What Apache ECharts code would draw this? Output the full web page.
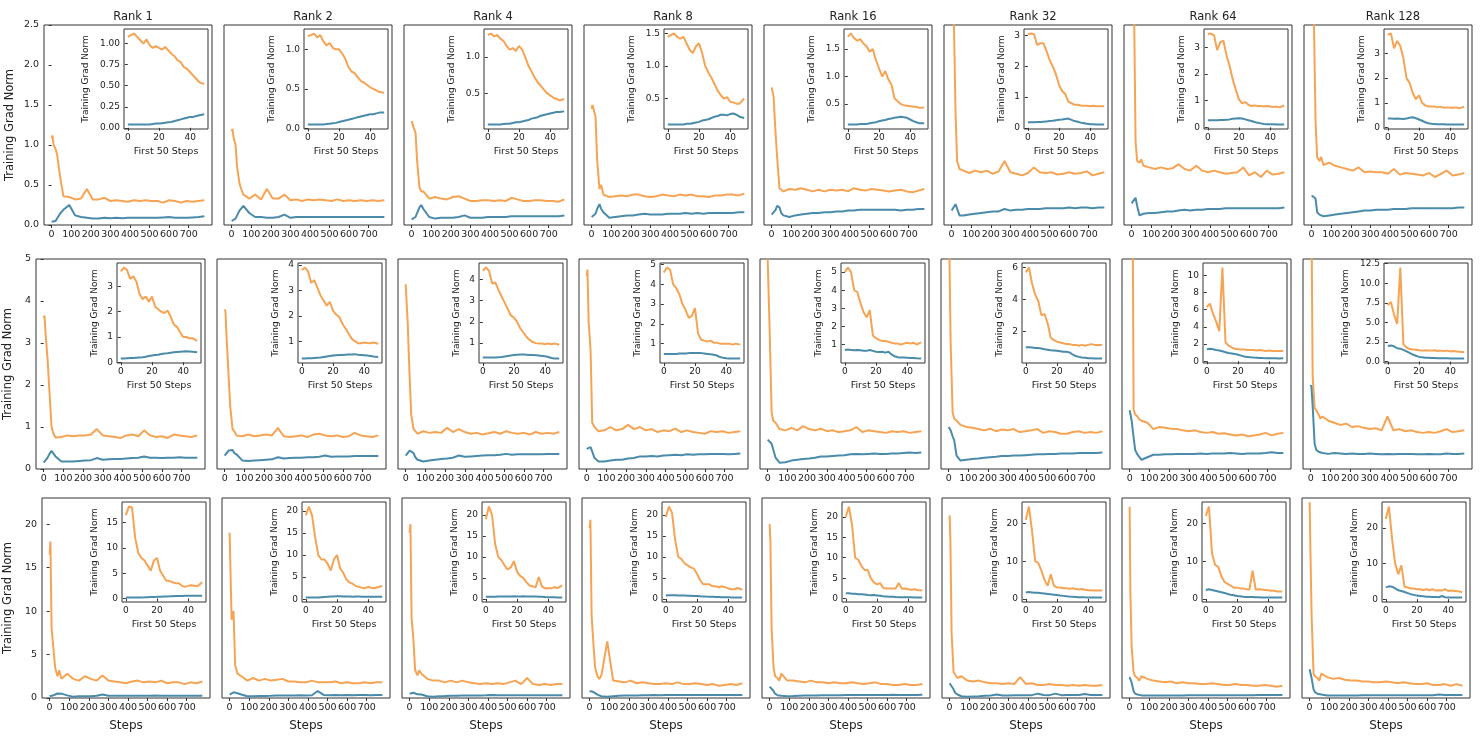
<!DOCTYPE html>
<html><head><meta charset="utf-8">
<script src="https://cdn.jsdelivr.net/npm/echarts@6/dist/echarts.min.js"></script>
<style>html,body{margin:0;padding:0;background:#fff}#c{width:1483px;height:738px}</style>
</head><body><div id="c"></div>
<script>
const ranks = [1, 2, 4, 8, 16, 32, 64, 128];
const steps50 = [0,2,4,6,8,10,12,14,16,18,20,22,24,26,28,30,32,34,36,38,40,42,44,46,49];
const mainEarlyIdx = [0,2,5,10,14,20,24]; // which first-50 samples the main panel shows
const tailSteps = [60,90,120,150,180,210,240,270,300,330,360,390,420,450,480,510,540,570,600,630,660,690,720,750,780];
const mainXTicks = [0,100,200,300,400,500,600,700];
const insetXTicks = [0,20,40];
const rowYMax = [2.5, 5, 23];
const rowYTicks = [[0,0.5,1,1.5,2,2.5],[0,1,2,3,4,5],[0,5,10,15,20]];

// ---- Row 1 ----
const row1Orange50 = [
 [1.08,1.10,1.12,1.08,1.04,1.00,1.05,0.98,0.95,0.97,0.95,0.93,0.96,0.92,0.88,0.85,0.80,0.78,0.72,0.70,0.66,0.62,0.58,0.54,0.52],
 [1.17,1.18,1.20,1.15,1.18,1.10,1.05,1.08,1.02,1.00,1.00,0.95,0.88,0.78,0.72,0.70,0.65,0.60,0.58,0.55,0.52,0.50,0.48,0.46,0.45],
 [1.30,1.32,1.28,1.30,1.25,1.22,1.15,1.10,1.12,1.08,1.15,1.10,1.00,0.88,0.80,0.72,0.65,0.60,0.55,0.50,0.47,0.44,0.42,0.40,0.42],
 [1.45,1.48,1.50,1.45,1.42,1.45,1.35,1.25,1.20,1.30,1.35,1.20,1.00,0.90,0.82,0.72,0.62,0.55,0.50,0.52,0.45,0.44,0.42,0.42,0.50],
 [1.72,1.78,1.70,1.65,1.68,1.60,1.55,1.45,1.50,1.30,1.15,1.00,1.10,0.95,0.85,0.60,0.55,0.50,0.48,0.47,0.46,0.45,0.45,0.43,0.44],
 [3.05,3.07,3.05,2.70,2.75,2.75,2.50,2.20,2.00,1.75,1.40,1.20,1.10,0.85,0.80,0.75,0.75,0.73,0.72,0.72,0.70,0.72,0.70,0.70,0.70],
 [3.50,3.52,3.45,2.90,3.20,3.25,2.70,2.30,1.80,1.40,1.05,0.90,0.95,0.85,0.80,0.82,0.80,0.80,0.78,0.80,0.78,0.76,0.78,0.75,0.82],
 [3.75,3.80,3.20,3.50,3.30,2.80,2.00,1.80,1.40,1.15,1.30,1.00,0.90,0.85,0.85,0.85,0.82,0.85,0.80,0.82,0.80,0.80,0.82,0.78,0.85]];
const row1Blue50 = [
 [0.04,0.04,0.04,0.04,0.04,0.04,0.04,0.04,0.045,0.05,0.05,0.055,0.06,0.065,0.07,0.08,0.09,0.10,0.11,0.12,0.13,0.13,0.14,0.15,0.16],
 [0.05,0.05,0.05,0.05,0.05,0.05,0.055,0.06,0.065,0.07,0.08,0.09,0.10,0.11,0.12,0.13,0.14,0.15,0.16,0.17,0.18,0.18,0.19,0.20,0.20],
 [0.07,0.07,0.07,0.07,0.07,0.075,0.08,0.08,0.09,0.10,0.10,0.11,0.12,0.13,0.15,0.16,0.17,0.19,0.20,0.21,0.22,0.23,0.24,0.24,0.25],
 [0.10,0.10,0.10,0.10,0.10,0.10,0.11,0.11,0.12,0.13,0.14,0.16,0.17,0.18,0.20,0.22,0.23,0.25,0.25,0.24,0.26,0.27,0.25,0.22,0.20],
 [0.13,0.13,0.13,0.13,0.14,0.14,0.14,0.15,0.16,0.17,0.19,0.20,0.21,0.23,0.24,0.25,0.26,0.27,0.26,0.25,0.22,0.19,0.17,0.15,0.15],
 [0.18,0.18,0.18,0.19,0.19,0.20,0.21,0.22,0.23,0.25,0.26,0.27,0.29,0.30,0.26,0.22,0.20,0.17,0.15,0.13,0.12,0.12,0.11,0.11,0.11],
 [0.27,0.27,0.27,0.27,0.28,0.28,0.29,0.30,0.32,0.33,0.34,0.33,0.30,0.27,0.24,0.20,0.17,0.15,0.13,0.12,0.12,0.12,0.11,0.11,0.11],
 [0.37,0.37,0.36,0.37,0.36,0.35,0.37,0.40,0.42,0.38,0.33,0.28,0.22,0.18,0.16,0.15,0.14,0.14,0.14,0.13,0.13,0.13,0.13,0.13,0.13]];
const row1OrangeTail = [
 [0.36,0.35,0.32,0.33,0.45,0.32,0.32,0.34,0.30,0.31,0.30,0.29,0.31,0.30,0.31,0.30,0.30,0.28,0.31,0.30,0.28,0.30,0.29,0.30,0.31],
 [0.38,0.33,0.38,0.32,0.45,0.33,0.33,0.38,0.31,0.32,0.30,0.32,0.31,0.32,0.31,0.30,0.32,0.30,0.31,0.30,0.31,0.30,0.31,0.30,0.31],
 [0.42,0.33,0.35,0.33,0.32,0.35,0.36,0.33,0.30,0.30,0.31,0.31,0.30,0.31,0.30,0.34,0.32,0.30,0.30,0.31,0.31,0.30,0.30,0.29,0.32],
 [0.38,0.35,0.36,0.37,0.36,0.38,0.38,0.36,0.35,0.36,0.38,0.37,0.36,0.38,0.37,0.38,0.36,0.36,0.35,0.37,0.37,0.38,0.38,0.37,0.39],
 [0.42,0.45,0.44,0.46,0.44,0.42,0.44,0.42,0.44,0.43,0.44,0.42,0.46,0.44,0.43,0.45,0.44,0.43,0.42,0.43,0.44,0.42,0.41,0.43,0.45],
 [0.68,0.65,0.68,0.66,0.68,0.64,0.67,0.80,0.66,0.64,0.62,0.65,0.72,0.66,0.65,0.66,0.63,0.64,0.66,0.64,0.65,0.67,0.62,0.64,0.66],
 [0.74,0.72,0.70,0.72,0.70,0.71,0.76,0.70,0.68,0.74,0.68,0.66,0.68,0.66,0.64,0.65,0.66,0.72,0.62,0.66,0.60,0.68,0.63,0.64,0.66],
 [0.75,0.78,0.74,0.72,0.70,0.68,0.72,0.66,0.67,0.66,0.66,0.64,0.70,0.63,0.65,0.64,0.63,0.62,0.65,0.60,0.64,0.68,0.62,0.63,0.65]];
const row1BlueTail = [
 [0.19,0.25,0.12,0.10,0.09,0.08,0.08,0.09,0.085,0.09,0.085,0.09,0.09,0.09,0.09,0.09,0.09,0.095,0.10,0.09,0.09,0.09,0.095,0.10,0.11],
 [0.24,0.15,0.10,0.10,0.09,0.09,0.10,0.13,0.09,0.10,0.10,0.10,0.10,0.10,0.10,0.10,0.10,0.10,0.10,0.10,0.10,0.10,0.10,0.10,0.10],
 [0.20,0.10,0.08,0.09,0.09,0.09,0.10,0.12,0.09,0.09,0.09,0.10,0.10,0.10,0.10,0.11,0.11,0.11,0.11,0.11,0.11,0.11,0.11,0.11,0.12],
 [0.16,0.09,0.10,0.11,0.12,0.12,0.13,0.14,0.13,0.13,0.13,0.14,0.14,0.14,0.15,0.14,0.15,0.14,0.15,0.15,0.15,0.15,0.15,0.16,0.16],
 [0.12,0.10,0.12,0.13,0.14,0.15,0.15,0.16,0.16,0.17,0.17,0.18,0.18,0.19,0.19,0.19,0.19,0.19,0.19,0.19,0.18,0.19,0.19,0.20,0.20],
 [0.12,0.13,0.14,0.15,0.16,0.17,0.17,0.20,0.18,0.19,0.19,0.20,0.20,0.20,0.21,0.21,0.21,0.21,0.22,0.21,0.22,0.22,0.21,0.22,0.22],
 [0.14,0.15,0.15,0.16,0.17,0.17,0.18,0.19,0.18,0.19,0.19,0.20,0.20,0.20,0.21,0.21,0.21,0.21,0.21,0.21,0.21,0.21,0.21,0.21,0.22],
 [0.11,0.12,0.13,0.14,0.15,0.16,0.17,0.18,0.18,0.19,0.19,0.19,0.20,0.20,0.20,0.21,0.21,0.21,0.21,0.21,0.21,0.21,0.21,0.22,0.22]];
const row1InsetTicks = [[0,0.25,0.5,0.75,1.0],[0,0.5,1.0],[0,0.5,1.0],[0.5,1.0,1.5],[0.5,1.0,1.5],[0,1,2,3],[0,1,2,3],[0,1,2,3,4]];

// ---- Row 2 ----
const row2Orange50 = [
 [3.60,3.75,3.65,3.30,3.40,3.20,2.70,2.50,2.60,2.40,2.60,2.20,2.10,2.00,1.95,2.05,1.80,1.50,1.40,1.20,1.00,1.00,0.95,0.95,0.85],
 [3.80,3.90,3.75,3.30,3.40,3.10,2.80,2.60,2.40,2.55,2.20,2.05,1.95,1.70,1.50,1.30,1.10,1.00,0.92,0.92,0.95,0.93,0.92,0.95,0.90],
 [4.40,4.55,4.40,3.80,3.85,3.50,3.20,2.90,2.60,2.30,2.20,2.00,1.70,1.50,1.30,1.15,1.05,1.00,0.98,0.98,0.95,0.98,0.95,0.98,0.92],
 [4.60,4.85,4.75,4.00,3.80,3.50,3.00,2.70,2.30,2.40,2.80,1.50,1.20,1.15,1.10,1.15,1.05,1.05,1.00,1.00,1.00,1.00,0.95,1.00,0.95],
 [5.00,5.25,5.00,4.00,3.90,3.30,2.80,2.50,2.90,1.50,1.35,1.25,1.20,1.20,1.15,1.10,1.05,1.05,1.00,1.05,1.10,1.05,1.10,1.00,1.12],
 [5.70,6.00,5.00,4.30,3.90,3.00,3.10,2.50,1.60,1.45,1.35,1.30,1.25,1.20,1.20,1.15,1.15,1.10,1.15,1.10,1.15,1.20,1.15,1.15,1.15],
 [6.30,6.70,5.50,4.60,3.50,10.9,2.20,1.80,1.60,1.45,1.40,1.35,1.35,1.30,1.30,1.30,1.25,1.30,1.25,1.20,1.25,1.20,1.20,1.20,1.18],
 [7.20,7.60,6.00,4.80,12.0,2.20,1.80,1.60,1.55,1.50,1.45,1.40,1.45,1.40,1.40,1.45,1.35,1.40,1.35,1.40,1.30,1.35,1.30,1.25,1.20]];
const row2Blue50 = [
 [0.15,0.15,0.16,0.17,0.17,0.18,0.19,0.20,0.22,0.25,0.27,0.29,0.30,0.33,0.35,0.36,0.38,0.40,0.41,0.42,0.43,0.44,0.43,0.42,0.40],
 [0.32,0.32,0.33,0.33,0.34,0.35,0.36,0.38,0.40,0.42,0.44,0.45,0.46,0.46,0.47,0.48,0.48,0.49,0.47,0.46,0.45,0.44,0.42,0.40,0.38],
 [0.32,0.32,0.32,0.33,0.33,0.34,0.35,0.37,0.40,0.42,0.44,0.45,0.46,0.46,0.45,0.44,0.44,0.43,0.42,0.40,0.38,0.35,0.30,0.28,0.28],
 [0.48,0.48,0.48,0.47,0.48,0.50,0.50,0.50,0.52,0.53,0.52,0.53,0.52,0.50,0.48,0.46,0.44,0.40,0.32,0.28,0.26,0.25,0.25,0.25,0.25],
 [0.70,0.72,0.70,0.68,0.70,0.68,0.65,0.65,0.70,0.65,0.60,0.58,0.60,0.55,0.60,0.45,0.35,0.30,0.28,0.28,0.27,0.26,0.25,0.24,0.23],
 [1.00,1.00,0.98,0.96,0.95,0.92,0.88,0.85,0.82,0.80,0.78,0.75,0.72,0.72,0.68,0.55,0.45,0.40,0.36,0.34,0.32,0.31,0.30,0.30,0.30],
 [1.40,1.45,1.40,1.30,1.25,1.15,1.05,0.95,0.90,0.85,0.75,0.65,0.55,0.50,0.45,0.42,0.40,0.38,0.36,0.35,0.34,0.33,0.33,0.32,0.33],
 [2.00,2.05,1.95,1.70,1.65,1.50,1.30,1.10,0.90,0.75,0.60,0.55,0.50,0.48,0.46,0.45,0.44,0.43,0.42,0.42,0.41,0.41,0.40,0.40,0.40]];
const row2OrangeTail = [
 [0.75,0.76,0.80,0.78,0.80,0.80,0.82,0.95,0.80,0.78,0.76,0.74,0.80,0.82,0.78,0.92,0.80,0.76,0.78,0.74,0.82,0.80,0.78,0.76,0.80],
 [0.80,0.78,0.82,0.78,0.80,0.82,0.80,0.98,0.78,0.76,0.78,0.80,0.76,0.82,0.84,0.80,0.78,0.80,0.76,0.78,0.86,0.80,0.78,0.76,0.80],
 [0.84,0.90,0.86,0.88,0.86,0.98,0.88,0.95,0.88,0.84,0.86,0.82,0.85,0.88,0.84,0.90,0.86,0.84,0.86,0.82,0.88,0.84,0.86,0.84,0.88],
 [0.90,0.92,1.00,0.92,0.95,1.05,0.95,1.00,0.92,0.95,0.88,0.92,0.90,0.96,0.88,0.92,0.88,0.86,0.84,0.90,0.88,0.90,0.86,0.88,0.90],
 [0.95,0.92,0.98,0.92,1.02,0.95,0.92,0.96,0.90,0.92,0.88,0.90,0.92,1.00,0.88,0.92,0.90,0.88,0.86,0.90,0.88,0.90,0.86,0.88,0.90],
 [1.05,1.00,0.98,0.95,0.92,0.96,0.90,0.94,0.92,0.95,0.88,0.90,0.92,0.95,0.86,0.90,0.88,0.84,0.84,0.88,0.90,0.86,0.88,0.86,0.90],
 [1.15,1.10,0.95,1.00,0.98,0.96,0.95,0.92,0.90,0.92,0.88,0.86,0.88,0.84,0.85,0.82,0.80,0.82,0.78,0.80,0.82,0.86,0.80,0.84,0.86],
 [1.25,1.15,1.10,1.05,1.08,1.00,1.02,0.98,0.95,0.97,0.92,1.25,0.92,0.95,0.90,0.92,0.88,0.86,0.88,0.86,0.90,0.95,0.88,0.90,0.92]];
const row2BlueTail = [
 [0.30,0.18,0.18,0.18,0.19,0.20,0.21,0.26,0.22,0.23,0.24,0.24,0.25,0.26,0.27,0.30,0.27,0.27,0.26,0.27,0.27,0.28,0.27,0.27,0.27],
 [0.35,0.20,0.19,0.20,0.21,0.22,0.23,0.28,0.25,0.26,0.27,0.27,0.28,0.28,0.29,0.32,0.29,0.30,0.30,0.30,0.31,0.31,0.31,0.31,0.31],
 [0.22,0.18,0.20,0.22,0.24,0.25,0.27,0.32,0.29,0.30,0.31,0.32,0.33,0.33,0.34,0.36,0.34,0.35,0.35,0.35,0.35,0.35,0.36,0.36,0.36],
 [0.18,0.18,0.20,0.22,0.22,0.25,0.26,0.30,0.30,0.31,0.30,0.32,0.33,0.34,0.33,0.35,0.34,0.35,0.35,0.36,0.36,0.36,0.35,0.36,0.37],
 [0.15,0.16,0.20,0.22,0.24,0.25,0.27,0.30,0.30,0.31,0.32,0.33,0.35,0.36,0.35,0.36,0.37,0.36,0.36,0.37,0.37,0.38,0.39,0.38,0.39],
 [0.20,0.22,0.24,0.25,0.27,0.28,0.29,0.31,0.31,0.32,0.32,0.33,0.34,0.35,0.35,0.36,0.36,0.37,0.37,0.37,0.38,0.38,0.38,0.38,0.39],
 [0.22,0.28,0.34,0.34,0.35,0.35,0.36,0.36,0.36,0.36,0.37,0.36,0.37,0.37,0.37,0.38,0.37,0.36,0.37,0.37,0.37,0.38,0.40,0.38,0.38],
 [0.38,0.36,0.38,0.37,0.36,0.37,0.36,0.36,0.37,0.36,0.35,0.36,0.35,0.36,0.36,0.36,0.35,0.35,0.36,0.35,0.35,0.37,0.36,0.36,0.37]];
const row2InsetTicks = [[0,1,2,3],[1,2,3,4],[1,2,3,4],[1,2,3,4,5],[1,2,3,4,5],[0,2,4,6],[0,2,4,6,8,10],[0,2.5,5,7.5,10,12.5]];

// ---- Row 3 ----
const row3Orange50 = [
 [16.5,18.2,18.0,12.0,9.0,8.0,7.5,6.5,5.5,7.5,8.0,5.5,4.5,3.5,3.5,3.2,3.0,3.0,2.5,2.3,2.5,2.6,2.5,2.4,3.2],
 [19,21,19,14,10,9,9,8,6.5,9,10,7,6,4.5,3.8,3.5,3.0,2.8,2.6,2.5,2.8,2.6,2.5,2.7,3.0],
 [19,22,20,13,10,9.2,8,7,7.5,9,6.5,5.5,5,4,3.2,3,2.8,5.2,3,2.5,2.6,2.5,2.8,2.6,3.2],
 [19.5,22,20.5,14,10,9.5,8.5,8,7.5,7.2,6,4.5,3.5,3.5,3.5,3,3,2.8,3,2.8,2.5,2.3,2.3,2.6,2.2],
 [20,22.5,18,10,9.5,8,7,7,5,4,3.5,3.8,2.6,2.5,2.5,2.5,2.5,3.8,2.4,2.5,2.3,2.2,2.3,2.1,2.0],
 [21,24.5,18,10,9.5,7.5,5,3.5,6.5,3.5,3,3,2.8,2.8,2.7,2.8,2.6,2.5,2.6,2.4,2.3,2.3,2.2,2.2,2.2],
 [22,24.5,12,9,8.5,6,4.5,4,3.5,3,3,2.8,2.8,2.6,2.5,7.5,2.5,2.6,2.5,2.4,2.3,2.2,2.2,2.0,2.0],
 [22.5,26,17,10,7,9.5,3.5,3.3,3.0,3.0,2.8,2.8,2.6,2.8,2.5,2.8,2.4,2.5,2.4,2.8,2.3,2.4,2.3,2.2,2.0]];
const row3Blue50 = [
 [0.2,0.2,0.2,0.2,0.2,0.2,0.22,0.25,0.28,0.3,0.32,0.35,0.38,0.4,0.42,0.45,0.48,0.5,0.5,0.52,0.52,0.55,0.55,0.55,0.52],
 [0.4,0.4,0.4,0.4,0.4,0.45,0.5,0.55,0.6,0.62,0.65,0.65,0.6,0.62,0.6,0.58,0.6,0.6,0.58,0.56,0.55,0.55,0.55,0.54,0.55],
 [0.5,0.5,0.52,0.5,0.55,0.55,0.55,0.6,0.6,0.62,0.6,0.6,0.62,0.6,0.6,0.58,0.55,0.52,0.5,0.45,0.42,0.4,0.38,0.36,0.35],
 [0.8,0.9,0.85,0.85,0.8,0.8,0.8,0.78,0.75,0.7,0.68,0.62,0.6,0.55,0.52,0.5,0.48,0.45,0.42,0.4,0.38,0.36,0.35,0.35,0.35],
 [1.3,1.3,1.2,1.2,1.1,1.1,1.0,0.9,0.85,0.9,0.8,0.7,0.6,0.55,0.5,0.45,0.4,0.38,0.35,0.33,0.32,0.32,0.3,0.3,0.3],
 [1.7,1.8,1.7,1.6,1.6,1.5,1.4,1.3,1.2,1.1,1.0,0.9,0.8,0.7,0.6,0.55,0.5,0.45,0.45,0.42,0.4,0.4,0.38,0.38,0.38],
 [2.4,2.6,2.4,2.2,2.0,1.8,1.6,1.3,1.1,1.0,0.8,0.7,0.6,0.55,0.5,0.5,0.45,0.45,0.42,0.42,0.4,0.4,0.4,0.4,0.4],
 [3.3,3.6,3.5,3.0,2.5,2.3,2.0,1.7,1.4,1.2,1.0,0.9,0.8,0.7,0.65,0.6,0.6,0.55,0.9,0.55,0.5,0.5,0.5,0.48,0.48]];
const row3OrangeTail = [
 [2.2,2.8,2.2,2.0,2.5,2.2,2.0,2.6,2.0,1.9,1.8,1.7,1.9,2.0,1.8,1.9,1.8,2.0,1.7,1.8,1.8,1.6,1.8,1.7,1.9],
 [2.5,2.0,2.3,2.0,2.2,2.0,2.1,2.2,1.9,1.9,1.8,1.8,2.0,1.8,1.8,1.8,1.9,1.7,1.8,1.7,1.7,1.8,1.7,1.8,1.8],
 [2.8,2.2,2.0,2.0,1.8,2.0,1.8,2.0,1.8,1.7,1.6,1.7,1.6,1.7,1.6,1.8,2.0,1.6,2.3,1.6,1.5,1.6,1.5,1.6,1.6],
 [2.6,6.5,2.0,1.9,1.8,2.0,1.7,1.8,1.7,1.6,1.6,1.7,1.6,1.8,1.6,1.6,1.7,1.6,1.5,1.6,1.4,1.5,1.6,1.5,1.7],
 [2.8,2.0,2.0,1.9,1.8,2.0,1.8,1.8,1.7,1.8,1.7,1.7,1.8,1.7,1.6,1.7,1.8,1.6,1.6,1.5,1.5,1.6,1.5,1.5,1.6],
 [2.5,2.0,1.9,2.0,1.8,1.7,1.7,1.6,1.7,1.6,2.4,1.6,1.7,1.5,1.5,1.6,1.5,1.5,1.4,1.5,1.4,1.5,1.4,1.4,1.5],
 [2.5,2.2,2.0,1.9,1.8,1.9,1.7,1.8,1.7,1.7,1.6,1.6,1.7,1.6,1.5,1.5,1.6,1.5,1.5,1.4,1.4,1.5,1.4,1.3,1.4],
 [2.8,2.4,2.2,2.3,2.1,2.0,2.0,1.9,1.9,1.8,1.8,1.9,1.8,1.7,1.8,1.7,1.6,1.6,1.7,1.5,1.5,1.6,1.4,1.6,1.4]];
const row3BlueTail = [
 [0.5,0.3,0.15,0.2,0.2,0.2,0.25,0.4,0.25,0.25,0.25,0.25,0.26,0.25,0.27,0.26,0.3,0.27,0.25,0.26,0.27,0.26,0.25,0.26,0.25],
 [0.4,0.2,0.2,0.22,0.24,0.25,0.28,0.3,0.3,0.3,0.32,0.3,0.32,0.8,0.35,0.33,0.34,0.33,0.35,0.33,0.34,0.34,0.33,0.34,0.34],
 [0.4,0.2,0.15,0.2,0.22,0.25,0.26,0.28,0.28,0.3,0.3,0.32,0.35,0.32,0.33,0.32,0.33,0.32,0.33,0.33,0.32,0.33,0.33,0.32,0.33],
 [0.2,0.15,0.2,0.25,0.28,0.3,0.3,0.32,0.32,0.35,0.33,0.34,0.35,0.35,0.34,0.35,0.35,0.35,0.34,0.35,0.35,0.35,0.35,0.34,0.35],
 [0.25,0.2,0.22,0.25,0.28,0.3,0.3,0.32,0.32,0.33,0.33,0.34,0.34,0.35,0.35,0.35,0.35,0.35,0.35,0.38,0.35,0.35,0.35,0.35,0.36],
 [0.2,0.15,0.18,0.2,0.25,0.3,0.4,0.3,0.3,0.32,0.32,0.32,0.33,0.5,0.35,0.33,0.5,0.33,0.34,0.34,0.35,0.45,0.34,0.35,0.35],
 [0.3,0.3,0.3,0.3,0.3,0.3,0.3,0.3,0.32,0.32,0.32,0.32,0.33,0.33,0.33,0.33,0.33,0.33,0.33,0.33,0.34,0.34,0.34,0.34,0.34],
 [0.4,0.3,0.3,0.3,0.3,0.3,0.3,0.32,0.32,0.32,0.32,0.32,0.33,0.33,0.33,0.33,0.33,0.33,0.33,0.33,0.4,0.34,0.34,0.34,0.34]];
const row3InsetTicks = [[0,5,10,15],[0,5,10,15,20],[0,5,10,15,20],[0,5,10,15,20],[0,5,10,15,20],[0,10,20],[0,10,20],[0,10,20]];

const rows = [
 {o50: row1Orange50, b50: row1Blue50, oT: row1OrangeTail, bT: row1BlueTail, it: row1InsetTicks},
 {o50: row2Orange50, b50: row2Blue50, oT: row2OrangeTail, bT: row2BlueTail, it: row2InsetTicks},
 {o50: row3Orange50, b50: row3Blue50, oT: row3OrangeTail, bT: row3BlueTail, it: row3InsetTicks}];

// layout
const rowLeft = [44, 36, 42], rowStep = [180, 181, 180], rowW = [168, 169, 168];
const rowTop = [25, 259, 498], rowH = [200, 210, 200];
const ORANGE = '#f6a453', BLUE = '#4a8bab', FONT = 'DejaVu Sans', TXT = '#222';

function decs(ticks){ let d=0; ticks.forEach(t=>{const s=String(t); if(s.includes('.')) d=Math.max(d,s.split('.')[1].length);}); return d; }
function pairs(xs, ys){ return xs.map((x,i)=>[x, ys[i]]); }
const pick = (arr, idx) => idx.map(i => arr[i]);

const grid=[], xAxis=[], yAxis=[], series=[], title=[];
for (let r=0;r<3;r++){
  for (let c=0;c<8;c++){
    const R=rows[r];
    const L=rowLeft[r]+rowStep[r]*c, T=rowTop[r], W=rowW[r], H=rowH[r];
    const gi=grid.length;
    grid.push({left:L, top:T, width:W, height:H, show:true, borderColor:'#333', borderWidth:1, backgroundColor:'transparent'});
    xAxis.push({type:'value', gridIndex:gi, min:-39, max:819,
      axisLine:{show:false}, splitLine:{show:false},
      axisTick:{show:true, length:3, lineStyle:{color:'#333'}, customValues:mainXTicks},
      axisLabel:{fontFamily:FONT, fontSize:9.5, color:TXT, margin:5, customValues:mainXTicks},
      name: r===2?'Steps':'', nameLocation:'middle', nameGap:22, nameTextStyle:{fontFamily:FONT, fontSize:12, color:TXT}});
    const yd=decs(rowYTicks[r]);
    yAxis.push({type:'value', gridIndex:gi, min:0, max:rowYMax[r],
      axisLine:{show:false}, splitLine:{show:false},
      axisTick:{show:c===0, length:3, lineStyle:{color:'#333'}, customValues:rowYTicks[r]},
      axisLabel:{show:c===0, fontFamily:FONT, fontSize:9.5, color:TXT, margin:5, customValues:rowYTicks[r], formatter:v=>Number(v).toFixed(yd)},
      name: c===0?'Training Grad Norm':'', nameLocation:'middle', nameGap: r===1?22:28, nameRotate:90,
      nameTextStyle:{fontFamily:FONT, fontSize:11.5, color:TXT}});
    const xs=pick(steps50, mainEarlyIdx).concat(tailSteps);
    series.push({type:'line', xAxisIndex:gi, yAxisIndex:gi, data:pairs(xs, pick(R.o50[c], mainEarlyIdx).concat(R.oT[c])), showSymbol:false, lineStyle:{color:ORANGE,width:2}, itemStyle:{color:ORANGE}, silent:true, animation:false});
    series.push({type:'line', xAxisIndex:gi, yAxisIndex:gi, data:pairs(xs, pick(R.b50[c], mainEarlyIdx).concat(R.bT[c])), showSymbol:false, lineStyle:{color:BLUE,width:2}, itemStyle:{color:BLUE}, silent:true, animation:false});
    if (r===0) title.push({text:'Rank '+ranks[c], left:L+W/2, top:6, textAlign:'center', textStyle:{fontFamily:FONT, fontSize:11.5, fontWeight:'normal', color:TXT}});
    // inset
    const ii=grid.length;
    const iW=84, iH=100, iL=L+W-4-iW, iT=T+4;
    grid.push({left:iL, top:iT, width:iW, height:iH, show:true, borderColor:'#333', borderWidth:1, backgroundColor:'#fff', z:5});
    const all=R.o50[c].concat(R.b50[c]);
    const lo=Math.min(...all), hi=Math.max(...all), pad=(hi-lo)*0.05;
    const ticks=R.it[c], d=decs(ticks);
    const maxLen=Math.max(...ticks.map(t=>t.toFixed(d).length));
    xAxis.push({type:'value', gridIndex:ii, min:-2.45, max:51.45, z:5,
      axisLine:{show:false}, splitLine:{show:false},
      axisTick:{show:true, length:3, lineStyle:{color:'#333'}, customValues:insetXTicks},
      axisLabel:{fontFamily:FONT, fontSize:9, color:TXT, margin:4, customValues:insetXTicks},
      name:'First 50 Steps', nameLocation:'middle', nameGap:18, nameTextStyle:{fontFamily:FONT, fontSize:9.5, color:TXT}});
    yAxis.push({type:'value', gridIndex:ii, min:lo-pad, max:hi+pad, z:5,
      axisLine:{show:false}, splitLine:{show:false},
      axisTick:{show:true, length:3, lineStyle:{color:'#333'}, customValues:ticks},
      axisLabel:{fontFamily:FONT, fontSize:9, color:TXT, margin:4, customValues:ticks, formatter:v=>Number(v).toFixed(d)},
      name:'Training Grad Norm', nameLocation:'middle', nameGap: 12+maxLen*5.4, nameRotate:90,
      nameTextStyle:{fontFamily:FONT, fontSize:9, color:TXT}});
    series.push({type:'line', xAxisIndex:ii, yAxisIndex:ii, data:pairs(steps50, R.o50[c]), showSymbol:false, z:6, lineStyle:{color:ORANGE,width:2}, silent:true, animation:false});
    series.push({type:'line', xAxisIndex:ii, yAxisIndex:ii, data:pairs(steps50, R.b50[c]), showSymbol:false, z:6, lineStyle:{color:BLUE,width:2}, silent:true, animation:false});
  }
}
const chart=echarts.init(document.getElementById('c'));
chart.setOption({animation:false, backgroundColor:'#fff', title, grid, xAxis, yAxis, series});
</script></body></html>
